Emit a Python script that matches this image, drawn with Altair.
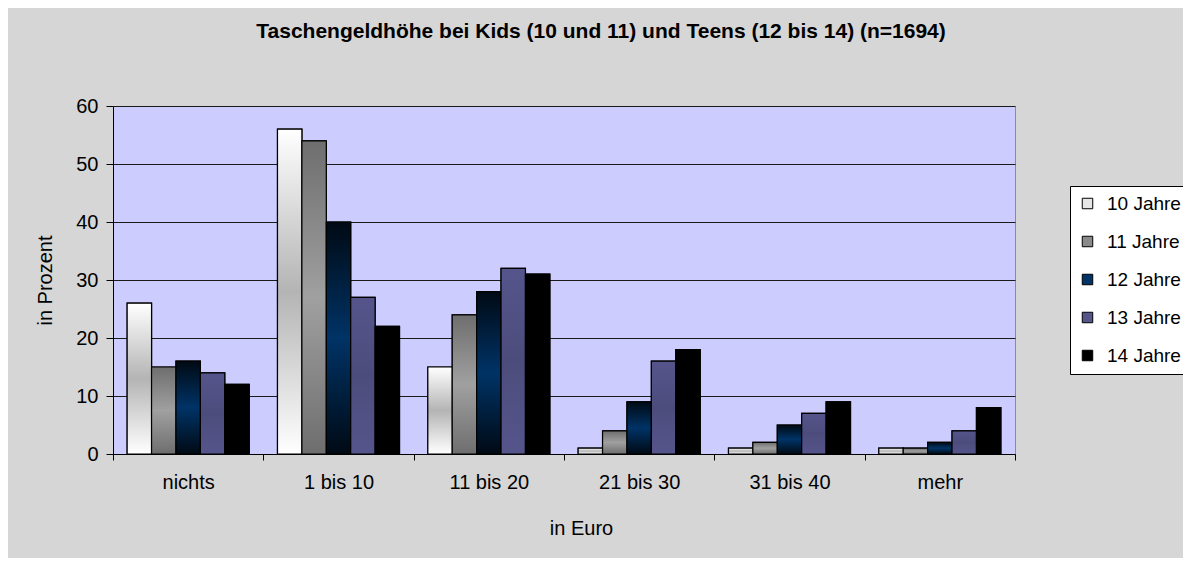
import altair as alt
import pandas as pd

categories = ["nichts", "1 bis 10", "11 bis 20", "21 bis 30", "31 bis 40", "mehr"]
series = ["10 Jahre", "11 Jahre", "12 Jahre", "13 Jahre", "14 Jahre"]
v10 = [26, 56, 15, 1, 1, 1]
v11 = [15, 54, 24, 4, 2, 1]
v12 = [16, 40, 28, 9, 5, 2]
v13 = [14, 27, 32, 16, 7, 4]
v14 = [12, 22, 31, 18, 9, 8]
y_ticks = [0, 10, 20, 30, 40, 50, 60]

values = [v10, v11, v12, v13, v14]
rows = []
for s, vals in zip(series, values):
    for c, v in zip(categories, vals):
        rows.append({"Betrag": c, "Alter": s, "Prozent": v})
df = pd.DataFrame(rows)

legend_colors = ["#e6e6e6", "#8a8a8a", "#003366", "#55558a", "#000000"]

def grad(top, mid):
    return alt.Gradient(
        gradient="linear", x1=0, y1=0, x2=0, y2=1,
        stops=[alt.GradientStop(color=top, offset=0),
               alt.GradientStop(color=mid, offset=0.5),
               alt.GradientStop(color=top, offset=1)])

fills = [
    grad("#ffffff", "#b4b4b4"),
    grad("#6e6e6e", "#a0a0a0"),
    grad("#000a14", "#003366"),
    grad("#55558c", "#4c4c7c"),
    "#000000",
]

FONT = "Liberation Sans"

x_enc = alt.X(
    "Betrag:N",
    sort=categories,
    scale=alt.Scale(domain=categories, paddingInner=0, paddingOuter=0),
    axis=alt.Axis(
        title="in Euro", labelAngle=0, tickBand="extent", tickSize=6,
        labelPadding=12, titleX=468, titleY=64, titleAnchor="middle",
        titleAlign="center",
    ),
)
xo_enc = alt.XOffset(
    "Alter:N", sort=series,
    scale=alt.Scale(domain=series, paddingInner=0, paddingOuter=0.58),
)
y_enc = alt.Y(
    "Prozent:Q",
    scale=alt.Scale(domain=[0, 60], nice=False),
    axis=alt.Axis(
        title="in Prozent", values=y_ticks, tickSize=7, labelPadding=8,
        grid=True, titleX=-68, titleY=174, titleAngle=-90,
        titleAlign="center", titleBaseline="middle",
    ),
)

base = alt.Chart(df).encode(x=x_enc, xOffset=xo_enc, y=y_enc)

legend_layer = base.mark_bar(stroke="black", strokeWidth=1.2).encode(
    color=alt.Color(
        "Alter:N",
        scale=alt.Scale(domain=series, range=legend_colors),
        legend=alt.Legend(
            title=None, orient="none", legendX=957, legendY=80,
            symbolType="square", symbolSize=110, symbolStrokeColor="black",
            symbolStrokeWidth=1, labelFontSize=19, labelFont=FONT,
            labelColor="black", rowPadding=18, padding=8,
            fillColor="white", strokeColor="black", labelOffset=10,
        ),
    )
)

layers = [legend_layer]
for s, f in zip(series, fills):
    layers.append(
        base.transform_filter(alt.datum.Alter == s)
        .mark_bar(fill=f, stroke="black", strokeWidth=1.2)
    )

chart = (
    alt.layer(*layers)
    .properties(
        width=902,
        height=348,
        title=alt.TitleParams(
            "Taschengeldhöhe bei Kids (10 und 11) und Teens (12 bis 14) (n=1694)",
            fontSize=21, font=FONT, fontWeight="bold", color="black",
            anchor="middle", dx=37, offset=54,
        ),
        autosize=alt.AutoSizeParams(type="none"),
        padding={"left": 105, "top": 98, "right": 168, "bottom": 104},
        background="#d6d6d6",
    )
    .configure_view(fill="#ccccff", stroke="#8c8c8c", strokeWidth=1)
    .configure_axis(
        domainColor="black", tickColor="black", gridColor="#1a1a1a",
        gridWidth=1, labelFontSize=20, labelFont=FONT, labelColor="black",
        titleFontSize=20, titleFont=FONT, titleColor="black",
        titleFontWeight="normal", domainWidth=1,
    )
)

chart.save("out.html", embed_options={"renderer": "svg", "actions": False})
